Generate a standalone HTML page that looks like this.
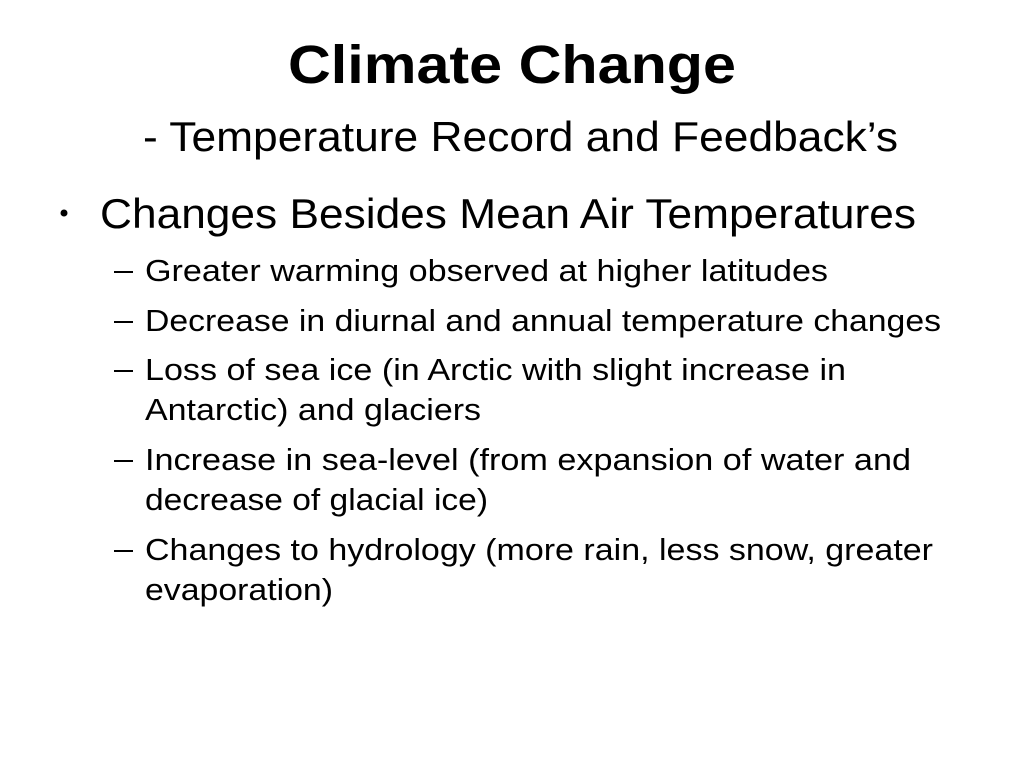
<!DOCTYPE html>
<html><head><meta charset="utf-8"><style>
html,body{margin:0;padding:0;background:#fff;width:1024px;height:768px;overflow:hidden}
svg text{font-family:"Liberation Sans","DejaVu Sans",sans-serif;fill:#000}
</style></head><body>
<svg width="1024" height="768" viewBox="0 0 1024 768">
<text x="288" y="83" font-size="54" font-weight="bold" textLength="448" lengthAdjust="spacingAndGlyphs">Climate Change</text>
<text x="143" y="151" font-size="42" textLength="755" lengthAdjust="spacingAndGlyphs">- Temperature Record and Feedback’s</text>
<circle cx="64" cy="213" r="3.5" fill="#000"/>
<text x="100" y="228" font-size="42" textLength="816" lengthAdjust="spacingAndGlyphs">Changes Besides Mean Air Temperatures</text>
<g>
<rect x="114" y="271" width="19" height="2"/>
<text x="145" y="281" font-size="31" textLength="683" lengthAdjust="spacingAndGlyphs">Greater warming observed at higher latitudes</text>
<rect x="114" y="321" width="19" height="2"/>
<text x="145" y="331" font-size="31" textLength="796" lengthAdjust="spacingAndGlyphs">Decrease in diurnal and annual temperature changes</text>
<rect x="114" y="370" width="19" height="2"/>
<text x="145" y="380" font-size="31" textLength="701" lengthAdjust="spacingAndGlyphs">Loss of sea ice (in Arctic with slight increase in</text>
<text x="145" y="420" font-size="31" textLength="336" lengthAdjust="spacingAndGlyphs">Antarctic) and glaciers</text>
<rect x="114" y="460" width="19" height="2"/>
<text x="145" y="470" font-size="31" textLength="766" lengthAdjust="spacingAndGlyphs">Increase in sea-level (from expansion of water and</text>
<text x="145" y="510" font-size="31" textLength="343" lengthAdjust="spacingAndGlyphs">decrease of glacial ice)</text>
<rect x="114" y="550" width="19" height="2"/>
<text x="145" y="560" font-size="31" textLength="788" lengthAdjust="spacingAndGlyphs">Changes to hydrology (more rain, less snow, greater</text>
<text x="145" y="600" font-size="31" textLength="188" lengthAdjust="spacingAndGlyphs">evaporation)</text>
</g>
</svg>
</body></html>
